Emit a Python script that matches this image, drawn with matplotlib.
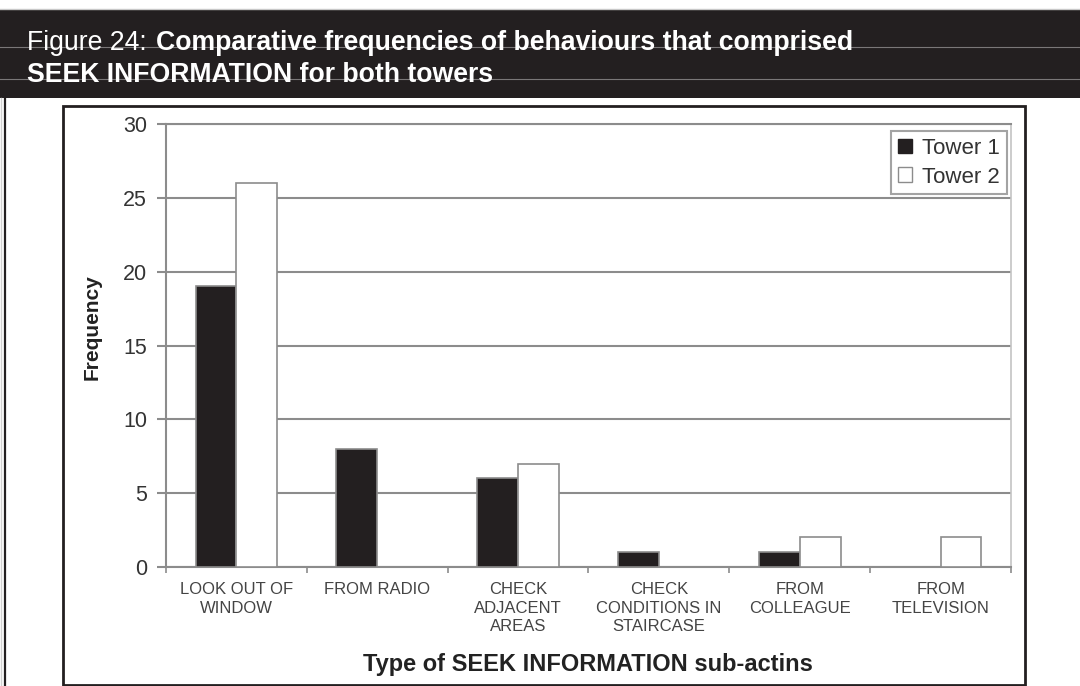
import matplotlib
matplotlib.use('Agg')
import matplotlib.pyplot as plt
from matplotlib.patches import Rectangle, Patch
from matplotlib.lines import Line2D
import numpy as np

# ---- data ----
categories = ["LOOK OUT OF\nWINDOW", "FROM RADIO", "CHECK\nADJACENT\nAREAS",
              "CHECK\nCONDITIONS IN\nSTAIRCASE", "FROM\nCOLLEAGUE", "FROM\nTELEVISION"]
tower1 = [19, 8, 6, 1, 1, 0]
tower2 = [26, 0, 7, 0, 2, 2]
series_names = ["Tower 1", "Tower 2"]
yticks = [0, 5, 10, 15, 20, 25, 30]

title_prefix = "Figure 24: "
title_bold_1 = "Comparative frequencies of behaviours that comprised"
title_bold_2 = "SEEK INFORMATION for both towers"
xlabel = "Type of SEEK INFORMATION sub-actins"
ylabel = "Frequency"

plt.rcParams['font.family'] = ['Liberation Sans', 'DejaVu Sans']

W, H = 1080, 686
fig = plt.figure(figsize=(W / 100, H / 100), dpi=100)
fig.patch.set_facecolor('white')


def fx(x):
    return x / W


def fy(y):
    return 1 - y / H


dark = '#231f20'
grid_c = '#8c8c8c'

# ---- header band and frame ----
fig.add_artist(Rectangle((0, fy(98)), 1, (98 - 9) / H, transform=fig.transFigure,
                         facecolor=dark, edgecolor='none', zorder=0))
fig.add_artist(Line2D([0, 1], [fy(8.5)] * 2, transform=fig.transFigure,
                      color='#c8c8c8', lw=1, zorder=0))
for yy in (47, 79):
    fig.add_artist(Line2D([0, 1], [fy(yy)] * 2, transform=fig.transFigure,
                          color='#7a7778', lw=0.8, zorder=1))
fig.add_artist(Line2D([fx(1)] * 2, [fy(98), 0], transform=fig.transFigure,
                      color='#d0d0d0', lw=1, zorder=1))
fig.add_artist(Line2D([fx(5)] * 2, [fy(98), 0], transform=fig.transFigure,
                      color=dark, lw=1.6, zorder=1))
fig.add_artist(Rectangle((fx(63), fy(685)), (1025 - 63) / W, (685 - 106) / H,
                         transform=fig.transFigure, facecolor='white',
                         edgecolor=dark, lw=2, zorder=1))

# ---- title ----
fig.text(fx(27), fy(50), title_prefix, color='white', fontsize=19.2,
         ha='left', va='baseline', zorder=3)
fig.text(fx(156), fy(50), title_bold_1, color='white', fontsize=19.2,
         fontweight='bold', ha='left', va='baseline', zorder=3)
fig.text(fx(27), fy(82), title_bold_2, color='white', fontsize=19.2,
         fontweight='bold', ha='left', va='baseline', zorder=3)

# ---- chart ----
ax = fig.add_axes([fx(166), fy(567), (1011 - 166) / W, (567 - 124) / H], zorder=2)
ax.set_facecolor('none')
x = np.arange(len(categories))
w = 0.29
ax.bar(x - w / 2, tower1, w, color=dark, edgecolor=grid_c, lw=1.2, zorder=3)
ax.bar(x + w / 2, tower2, w, color='white', edgecolor=grid_c, lw=1.2, zorder=3)

ax.set_xlim(-0.5, len(categories) - 0.5)
ax.set_ylim(0, 30)
ax.set_yticks(yticks)
ax.set_yticklabels([str(v) for v in yticks])
ax.yaxis.grid(True, color=grid_c, lw=1.5)
ax.set_axisbelow(True)

for s in ('left', 'bottom', 'top'):
    ax.spines[s].set_color(grid_c)
    ax.spines[s].set_linewidth(1.5)
ax.spines['right'].set_color('#c4c4c4')
ax.spines['right'].set_linewidth(1.2)

ax.tick_params(axis='y', direction='out', length=6.5, width=1.5, color=grid_c,
               labelsize=15.5, labelcolor='#333333', pad=7)
ax.set_xticks(x)
ax.set_xticklabels(categories, fontsize=12, color='#444444', linespacing=1.3)
ax.tick_params(axis='x', which='major', length=0, pad=11)
ax.set_xticks(np.arange(-0.5, len(categories), 1.0), minor=True)
ax.tick_params(axis='x', which='minor', direction='out', length=4, width=1.2,
               color=grid_c)

handles = [Patch(facecolor=dark, edgecolor=dark, label=series_names[0]),
           Patch(facecolor='white', edgecolor=grid_c, label=series_names[1])]
leg = ax.legend(handles=handles, loc='upper right', bbox_to_anchor=(0.9953, 0.984),
                borderaxespad=0, fontsize=16, frameon=True, fancybox=False,
                edgecolor=grid_c, handlelength=0.65, handleheight=0.65,
                handletextpad=0.45, labelspacing=0.35, borderpad=0.3)
leg.get_frame().set_linewidth(1.5)
for t in leg.get_texts():
    t.set_color('#333333')

fig.text(fx(92), fy(327), ylabel, rotation=90, fontsize=15, fontweight='bold',
         ha='center', va='center', color='#222222', zorder=3)
fig.text(fx(588), fy(665), xlabel, fontsize=17, fontweight='bold',
         ha='center', va='center', color='#222222', zorder=3)

fig.savefig('out.png', dpi=100)
